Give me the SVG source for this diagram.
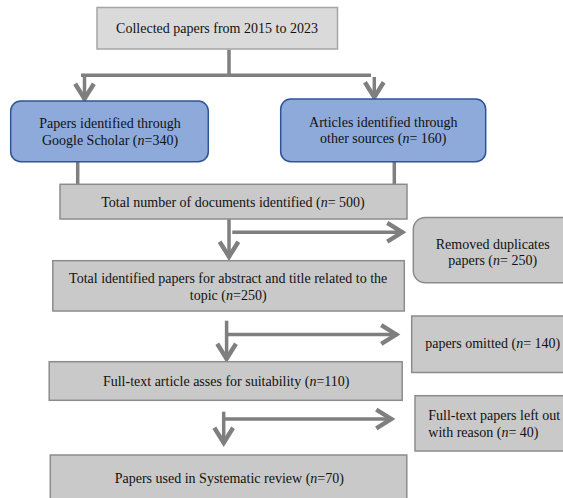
<svg xmlns="http://www.w3.org/2000/svg" width="563" height="498" viewBox="0 0 563 498">
<defs>
<style>
text{font-family:"Liberation Serif","Times New Roman",serif;font-size:14px;fill:#111}
.c{text-anchor:middle}
.i{font-style:italic}
.top{fill:#dadada;stroke:#a5a5a5;stroke-width:1.5}
.blue{fill:#8eaadb;stroke:#2f5597;stroke-width:1.5}
.gray{fill:#c9c9c9;stroke:#8c8c8c;stroke-width:1.5}
.ln{fill:none;stroke:#7f7f7f;stroke-width:3.5}
</style>
<marker id="ah" markerUnits="userSpaceOnUse" markerWidth="30" markerHeight="30" viewBox="-16 -12 20 24" refX="0" refY="0" orient="auto" overflow="visible">
<path d="M-13,-7.5 L-1,0 L-13,7.5" fill="none" stroke="#7f7f7f" stroke-width="3.5"/>
</marker>
</defs>
<g id="connectors">
<line class="ln" x1="229" y1="49.5" x2="229" y2="75"/>
<line class="ln" x1="81" y1="75.3" x2="371" y2="75.3"/>
<line class="ln" x1="84.5" y1="75" x2="84.5" y2="100" marker-end="url(#ah)"/>
<line class="ln" x1="374.3" y1="77" x2="374.3" y2="98.5" marker-end="url(#ah)"/>
<line class="ln" x1="77.7" y1="162" x2="77.7" y2="184.3"/>
<line class="ln" x1="394.3" y1="162" x2="394.3" y2="184.3"/>
<line class="ln" x1="229" y1="219" x2="229" y2="258" marker-end="url(#ah)"/>
<line class="ln" x1="232.3" y1="232.3" x2="403.5" y2="232.3" marker-end="url(#ah)"/>
<line class="ln" x1="226.6" y1="320.7" x2="226.6" y2="360" marker-end="url(#ah)"/>
<line class="ln" x1="226.6" y1="334.5" x2="397.5" y2="334.5" marker-end="url(#ah)"/>
<line class="ln" x1="223.7" y1="411.7" x2="223.7" y2="444" marker-end="url(#ah)"/>
<line class="ln" x1="223.7" y1="419" x2="392.5" y2="419" marker-end="url(#ah)"/>
</g>
<g id="n-collected">
<rect class="top" x="97" y="7.5" width="240.5" height="41.5"/>
<text class="c" x="217" y="33">Collected papers from 2015 to 2023</text>
</g>
<g id="n-scholar">
<rect class="blue" x="10.7" y="101" width="197.6" height="60.7" rx="10"/>
<text class="c" x="110" y="128.3">Papers identified through</text>
<text class="c" x="110" y="145">Google Scholar (<tspan class="i">n</tspan>=340)</text>
</g>
<g id="n-other">
<rect class="blue" x="280.7" y="99" width="205" height="62.7" rx="10"/>
<text class="c" x="383.3" y="127.3">Articles identified through</text>
<text class="c" x="383.3" y="143.3">other sources (<tspan class="i">n</tspan>= 160)</text>
</g>
<g id="n-total">
<rect class="gray" x="60" y="184.3" width="347" height="34.7"/>
<text class="c" x="233" y="206.7">Total number of documents identified (<tspan class="i">n</tspan>= 500)</text>
</g>
<g id="n-removed">
<rect class="gray" x="413.3" y="217.5" width="165" height="65.2" rx="12"/>
<text class="c" x="492.7" y="249.3">Removed duplicates</text>
<text class="c" x="492.7" y="265">papers (<tspan class="i">n</tspan>= 250)</text>
</g>
<g id="n-abstract">
<rect class="gray" x="52.8" y="260.7" width="351.5" height="50.3"/>
<text class="c" x="228.2" y="283.3">Total identified papers for abstract and title related to the</text>
<text class="c" x="228.2" y="300">topic (<tspan class="i">n</tspan>=250)</text>
</g>
<g id="n-omitted">
<rect class="gray" x="411.7" y="316" width="165" height="56.5"/>
<text class="c" x="492.7" y="348.3">papers omitted (<tspan class="i">n</tspan>= 140)</text>
</g>
<g id="n-fulltext">
<rect class="gray" x="49.2" y="361.7" width="353" height="38.6"/>
<text class="c" x="226.2" y="386">Full-text article asses for suitability (<tspan class="i">n</tspan>=110)</text>
</g>
<g id="n-leftout">
<rect class="gray" x="415" y="395.7" width="165" height="55.3"/>
<text x="428.3" y="420">Full-text papers left out</text>
<text x="428.3" y="436.7">with reason (<tspan class="i">n</tspan>= 40)</text>
</g>
<g id="n-used">
<rect class="gray" x="50.3" y="455" width="356.5" height="50"/>
<text class="c" x="229.3" y="482.7">Papers used in Systematic review (<tspan class="i">n</tspan>=70)</text>
</g>
</svg>
